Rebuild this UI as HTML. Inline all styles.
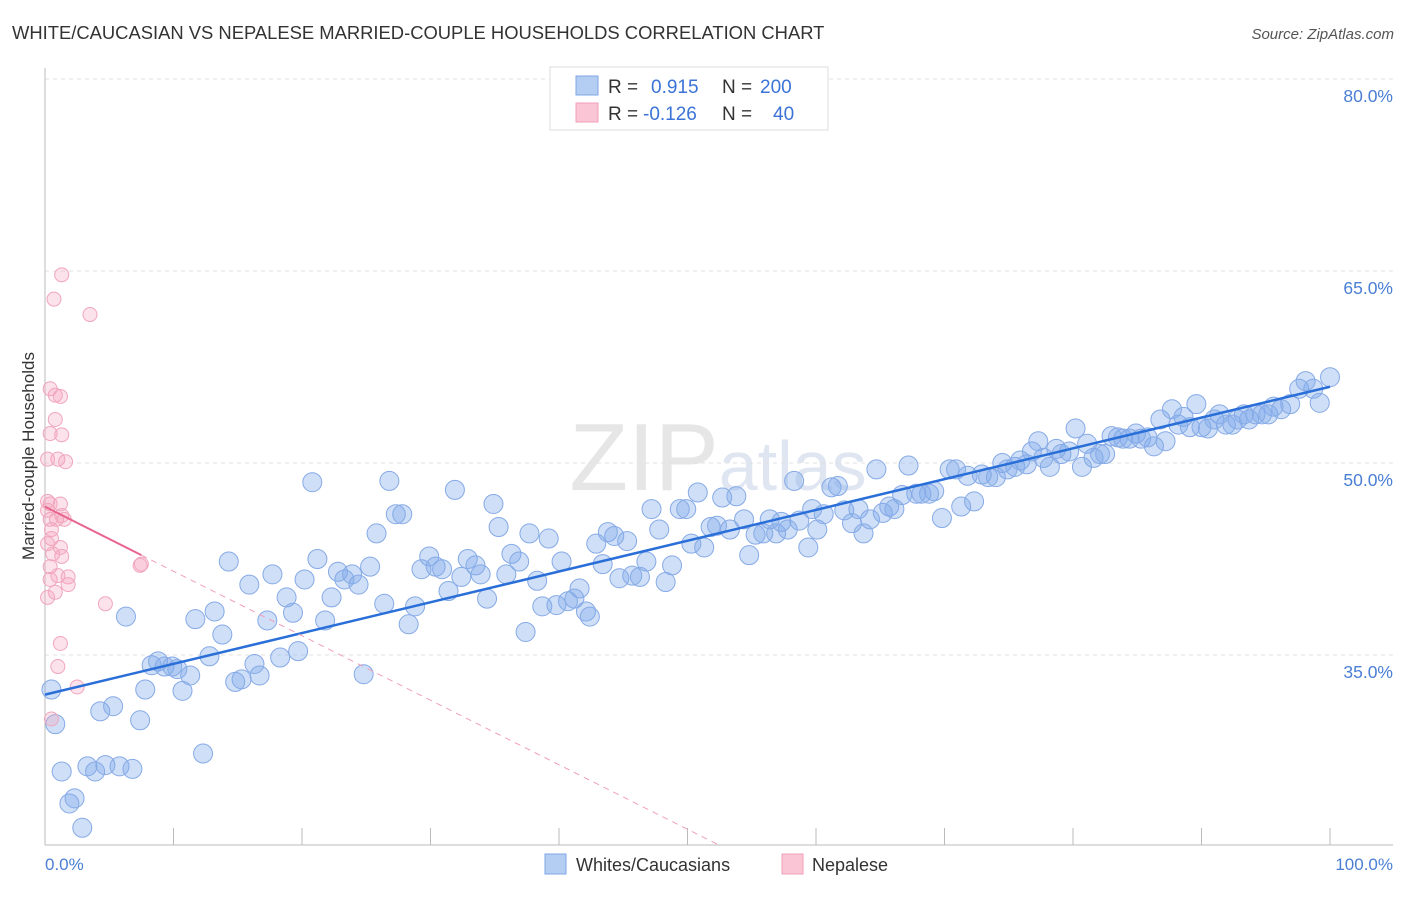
<!DOCTYPE html>
<html><head><meta charset="utf-8"><style>
body{margin:0;background:#fff;font-family:"Liberation Sans",sans-serif;}
svg text{font-family:"Liberation Sans",sans-serif;}
</style></head><body>
<svg id="chart" width="1406" height="892" viewBox="0 0 1406 892" xmlns="http://www.w3.org/2000/svg">
<text x="12" y="39" font-size="18.4" fill="#333">WHITE/CAUCASIAN VS NEPALESE MARRIED-COUPLE HOUSEHOLDS CORRELATION CHART</text>
<text x="1394" y="39" font-size="15" fill="#555" font-style="italic" text-anchor="end">Source: ZipAtlas.com</text>
<text x="718" y="490" font-size="96" fill="#e6e6e6" text-anchor="middle" font-family="Liberation Serif"><tspan>ZIP</tspan><tspan font-size="70" fill="#dfe6f2" font-family="Liberation Sans">atlas</tspan></text>
<g id="grid"></g>
<g id="axes"></g>
<g id="marks"></g>
<g id="lines"></g>
<text transform="translate(34,456) rotate(-90)" font-size="17" fill="#333" text-anchor="middle">Married-couple Households</text>
<text x="45" y="870" font-size="17" fill="#4a7fd4">0.0%</text>
<text x="1393" y="870" font-size="17" fill="#4a7fd4" text-anchor="end">100.0%</text>
<g>
<rect x="550" y="67" width="278" height="63" fill="#fff" stroke="#ddd"/>
<rect x="576" y="76" width="22" height="19" fill="#b4cdf3" stroke="#7fa6e6"/>
<rect x="576" y="103" width="22" height="19" fill="#fac5d4" stroke="#f0a0b8"/>
<text x="608" y="93" font-size="19" fill="#333">R =</text>
<text x="651" y="93" font-size="19" fill="#3b73d6">0.915</text>
<text x="722" y="93" font-size="19" fill="#333">N =</text>
<text x="760" y="93" font-size="19" fill="#3b73d6">200</text>
<text x="608" y="120" font-size="19" fill="#333">R =</text>
<text x="643" y="120" font-size="19" fill="#3b73d6">-0.126</text>
<text x="722" y="120" font-size="19" fill="#333">N =</text>
<text x="773" y="120" font-size="19" fill="#3b73d6">40</text>
</g>
<g>
<rect x="545" y="854" width="21" height="20" fill="#b4cdf3" stroke="#7fa6e6"/>
<text x="576" y="871" font-size="18" fill="#333">Whites/Caucasians</text>
<rect x="782" y="854" width="21" height="20" fill="#fac5d4" stroke="#f0a0b8"/>
<text x="812" y="871" font-size="18" fill="#333">Nepalese</text>
</g>
</svg>
<script>
const yTicks=[35,50,65,80];
const yTickLabels=["35.0%","50.0%","65.0%","80.0%"];
const xTicks=[0,10,20,30,40,50,60,70,80,90,100];
const blueX=[0.5,0.8,1.3,1.9,2.3,2.9,3.3,3.9,4.3,4.7,5.3,5.8,6.3,6.8,7.4,7.8,8.3,8.8,9.3,9.9,10.3,10.7,11.3,11.7,12.3,12.8,13.2,13.8,14.3,14.8,15.3,15.9,16.3,16.7,17.3,17.7,18.3,18.8,19.3,19.7,20.2,20.8,21.2,21.8,22.3,22.8,23.3,23.9,24.4,24.8,25.3,25.8,26.4,26.8,27.3,27.8,28.3,28.8,29.3,29.9,30.4,30.9,31.4,31.9,32.4,32.9,33.5,33.9,34.4,34.9,35.3,35.9,36.3,36.9,37.4,37.7,38.3,38.7,39.2,39.8,40.2,40.7,41.2,41.6,42.1,42.4,42.9,43.4,43.8,44.3,44.7,45.3,45.7,46.3,46.8,47.2,47.8,48.3,48.8,49.4,49.9,50.3,50.8,51.3,51.8,52.3,52.7,53.3,53.8,54.4,54.8,55.3,55.9,56.4,56.9,57.3,57.8,58.3,58.7,59.4,59.7,60.1,60.6,61.2,61.7,62.2,62.8,63.3,63.7,64.2,64.7,65.2,65.7,66.1,66.7,67.2,67.8,68.2,68.8,69.2,69.8,70.4,70.9,71.3,71.8,72.3,72.9,73.4,74.0,74.5,74.9,75.5,75.9,76.4,76.8,77.3,77.7,78.2,78.7,79.1,79.7,80.2,80.7,81.1,81.6,82.1,82.5,83.0,83.5,83.9,84.4,84.9,85.3,85.8,86.3,86.8,87.2,87.7,88.2,88.6,89.1,89.6,90.0,90.5,91.0,91.4,91.9,92.4,92.8,93.3,93.7,94.2,94.7,95.2,95.6,96.2,96.9,97.6,98.1,98.7,99.2,100.0];
const blueY=[32.3,29.6,25.9,23.4,23.8,21.5,26.3,25.9,30.6,26.4,31.0,26.3,38.0,26.1,29.9,32.3,34.2,34.5,34.1,34.1,33.9,32.2,33.4,37.8,27.3,34.9,38.4,36.6,42.3,32.9,33.1,40.5,34.3,33.4,37.7,41.3,34.8,39.5,38.3,35.3,40.9,48.5,42.5,37.7,39.5,41.5,40.9,41.3,40.5,33.5,41.9,44.5,39.0,48.6,46.0,46.0,37.4,38.8,41.7,42.7,41.9,41.7,40.0,47.9,41.1,42.5,42.0,41.3,39.4,46.8,45.0,41.3,42.9,42.3,36.8,44.5,40.8,38.8,44.1,38.9,42.3,39.2,39.4,40.2,38.4,38.0,43.7,42.1,44.6,44.3,41.0,43.9,41.2,41.1,42.3,46.4,44.8,40.7,42.0,46.4,46.4,43.7,47.7,43.4,45.0,45.1,47.3,44.8,47.4,45.6,42.8,44.4,44.5,45.6,44.5,45.4,44.8,48.6,45.5,43.4,46.4,44.8,46.0,48.1,48.2,46.3,45.3,46.4,44.5,45.6,49.5,46.1,46.6,46.4,47.5,49.8,47.6,47.6,47.6,47.8,45.7,49.5,49.5,46.6,49.0,47.0,49.1,48.9,48.9,50.0,49.5,49.7,50.2,49.9,50.9,51.7,50.4,49.7,51.1,50.7,50.9,52.7,49.7,51.5,50.4,50.7,50.7,52.1,52.0,51.9,51.9,52.3,51.9,52.0,51.3,53.4,51.7,54.2,53.0,53.6,52.8,54.6,52.8,52.7,53.4,53.8,53.0,53.0,53.4,53.8,53.4,53.8,53.8,53.8,54.4,54.2,54.6,55.8,56.4,55.8,54.7,56.7];
const pinkX=[0.2,0.4,0.5,0.2,0.6,0.4,0.2,0.8,0.4,1.0,1.2,1.3,0.4,0.8,1.2,0.4,1.3,1.0,0.2,1.6,0.8,1.3,0.7,3.5,1.2,1.8,1.8,1.2,1.0,2.5,0.5,4.7,7.5,7.4,0.4,0.9,0.5,0.2,1.5,1.3];
const pinkY=[47.0,46.8,44.1,43.7,42.9,41.9,39.5,39.9,40.9,41.2,46.8,45.9,55.8,55.3,55.2,52.3,52.2,50.3,50.3,50.1,53.4,64.7,62.8,61.6,43.4,41.1,40.5,35.9,34.1,32.5,30.0,39.0,42.1,42.0,45.6,45.6,44.8,46.3,45.6,42.7];
const NS="http://www.w3.org/2000/svg";
const X0=45,X1=1330,Yb=845,Ytop=68;
function xs(v){return X0+(X1-X0)*v/100;}
function ys(v){return 463-(v-50)*12.8;}
function mk(tag,attrs,parent){const e=document.createElementNS(NS,tag);for(const k in attrs)e.setAttribute(k,attrs[k]);parent.appendChild(e);return e;}
const grid=document.getElementById('grid'),axes=document.getElementById('axes'),marks=document.getElementById('marks'),lines=document.getElementById('lines');
yTicks.forEach((t,i)=>{
 const g=mk('line',{x1:X0,x2:1393,y1:ys(t),y2:ys(t),stroke:'#e2e2e2','stroke-dasharray':'4,4'},grid);
 
 
 const l=mk('text',{x:1393,y:ys(t)+23,'font-size':17.5,fill:'#4a7fd4','text-anchor':'end'},grid);
 l.textContent=yTickLabels[i];
 
 
});
const ax=mk('line',{x1:X0,x2:X0,y1:Ytop,y2:Yb,stroke:'#bbb'},axes);


const bx=mk('line',{x1:X0,x2:1393,y1:Yb,y2:Yb,stroke:'#bbb'},axes);


xTicks.forEach(t=>{
 const k=mk('line',{x1:xs(t),x2:xs(t),y1:828,y2:Yb,stroke:'#bbb'},axes);
 
 
});
function fit(X,Y){const n=X.length;let mx=0,my=0;for(let i=0;i<n;i++){mx+=X[i];my+=Y[i];}mx/=n;my/=n;let sxy=0,sxx=0;for(let i=0;i<n;i++){sxy+=(X[i]-mx)*(Y[i]-my);sxx+=(X[i]-mx)**2;}const b=sxy/sxx;return[my-b*mx,b];}
blueX.forEach((x,i)=>{
 const c=mk('circle',{cx:xs(x),cy:ys(blueY[i]),r:9.5,fill:'rgba(130,170,235,0.38)',stroke:'#86aae6','stroke-width':1},marks);
 
 
});
pinkX.forEach((x,i)=>{
 const c=mk('circle',{cx:xs(x),cy:ys(pinkY[i]),r:7,fill:'rgba(245,165,190,0.32)',stroke:'#f0a6be','stroke-width':1},marks);
 
 
});
const [ba,bb]=fit(blueX,blueY);
const bl=mk('line',{x1:xs(0),y1:ys(ba),x2:xs(100),y2:ys(ba+bb*100),stroke:'#2a6fd8','stroke-width':2.5},lines);


const [pa,pb]=fit(pinkX,pinkY);
const pmax=Math.max(...pinkX);
const pl=mk('line',{x1:xs(0),y1:ys(pa),x2:xs(pmax),y2:ys(pa+pb*pmax),stroke:'#e8658f','stroke-width':2},lines);


const yBottom=50-(Yb-463)/12.8;
let xe=pb<0?(yBottom-pa)/pb:100; xe=Math.min(xe,100);
const pd=mk('line',{x1:xs(pmax),y1:ys(pa+pb*pmax),x2:xs(xe),y2:ys(pa+pb*xe),stroke:'#f0a0b8','stroke-width':1,'stroke-dasharray':'6,5'},lines);


</script>
</body></html>
